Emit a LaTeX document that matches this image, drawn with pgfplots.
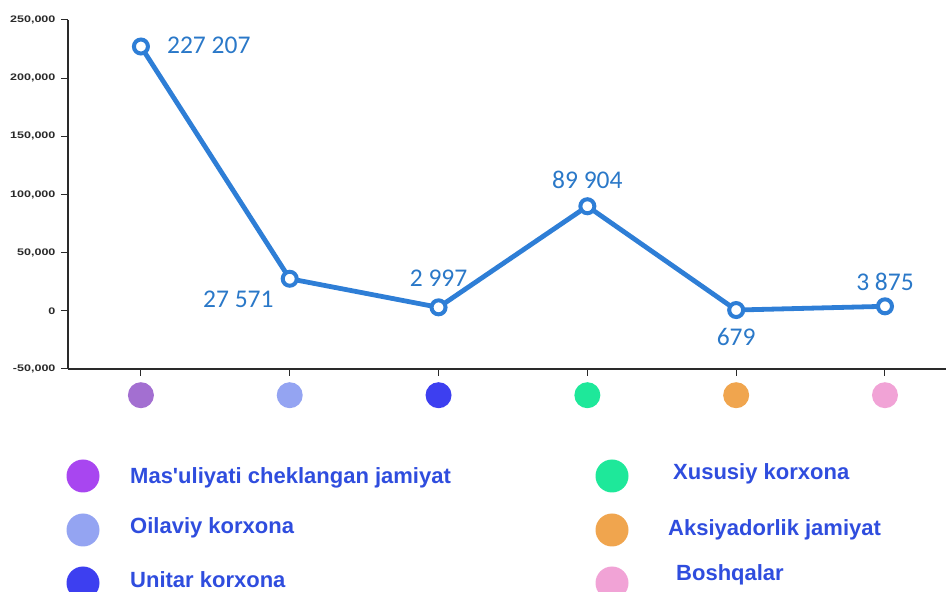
\documentclass[border=0pt]{standalone}
\usepackage{pgfplots}
\pgfplotsset{compat=1.18}
\usepackage{fontspec}
\setmainfont{Liberation Sans}
\newfontfamily\carlito{Carlito}
\definecolor{linec}{HTML}{2E7ED6}
\definecolor{labc}{HTML}{2A78C8}
\definecolor{legtxt}{HTML}{2F4DDE}
\definecolor{axisgray}{HTML}{2A2A2A}
\definecolor{tA}{HTML}{A36FD1}
\definecolor{tB}{HTML}{94A4F2}
\definecolor{tC}{HTML}{3D3FF0}
\definecolor{tD}{HTML}{1EE89A}
\definecolor{tE}{HTML}{F0A54E}
\definecolor{tF}{HTML}{F1A3D6}
\definecolor{lA}{HTML}{A846F0}
\newcommand{\dotx}[1]{\tikz\fill[#1] (0pt,0pt) circle (13pt);}
\pgfplotsset{vlab/.style n args={3}{draw=none, mark=none, point meta=explicit symbolic,
  nodes near coords={\pgfplotspointmeta},
  every node near coord/.append style={font=\carlito\fontsize{25.5}{28}\selectfont, text=labc, inner sep=0pt, anchor=#1, xshift=#2, yshift=#3}}}
\begin{document}
\begin{tikzpicture}
\useasboundingbox (0pt,0pt) rectangle (946pt,592pt);
\begin{axis}[
  at={(68pt,223pt)}, anchor=south west,
  scale only axis, width=878pt, height=349pt,
  xmin=-0.49, xmax=5.41, ymin=-50000, ymax=250000,
  axis x line*=bottom, axis y line*=left,
  axis line style={draw=axisgray, line width=1.4pt},
  tick style={draw=axisgray, line width=1pt},
  tick align=outside, major tick length=7pt,
  xtick={0,1,2,3,4,5},
  xticklabels={\dotx{tA},\dotx{tB},\dotx{tC},\dotx{tD},\dotx{tE},\dotx{tF}},
  xticklabel style={inner sep=0pt, yshift=-6pt},
  ytick={-50000,0,50000,100000,150000,200000,250000},
  yticklabels={{-50,000},{0},{50,000},{100,000},{150,000},{200,000},{250,000}},
  scaled y ticks=false,
  yticklabel style={font=\fontsize{9.5}{10}\selectfont\bfseries, text=axisgray, xscale=1.32, inner sep=1pt, xshift=-3pt},
  clip=false,
]
\addplot[linec, line width=4.8pt, mark=*, mark size=7pt,
  mark options={fill=white, draw=linec, line width=4pt}]
  coordinates {(0,227207) (1,27571) (2,2997) (3,89904) (4,679) (5,3875)};
\addplot[vlab={west}{26pt}{1pt}] coordinates {(0,227207) [227 207]};
\addplot[vlab={east}{-16pt}{-21pt}] coordinates {(1,27571) [27 571]};
\addplot[vlab={south}{0pt}{21pt}] coordinates {(2,2997) [2 997]};
\addplot[vlab={south}{0pt}{17pt}] coordinates {(3,89904) [89 904]};
\addplot[vlab={north}{0pt}{-18pt}] coordinates {(4,679) [679]};
\addplot[vlab={south}{0pt}{15pt}] coordinates {(5,3875) [3 875]};
\end{axis}
% legend
\fill[lA] (83pt,116pt) circle (16.5pt);
\fill[tB] (83pt,62pt) circle (16.5pt);
\fill[tC] (83pt,9pt) circle (16.5pt);
\fill[tD] (612pt,116pt) circle (16.5pt);
\fill[tE] (612pt,62pt) circle (16.5pt);
\fill[tF] (612pt,9pt) circle (16.5pt);
\begin{scope}[every node/.style={anchor=west, inner sep=0pt, text=legtxt, font=\fontsize{22}{24}\selectfont\bfseries}]
\node at (130pt,114pt) {Mas\textquotesingle uliyati cheklangan jamiyat};
\node at (130pt,64pt) {Oilaviy korxona};
\node at (130pt,12pt) {Unitar korxona};
\node at (673pt,118pt) {Xususiy korxona};
\node at (668pt,62pt) {Aksiyadorlik jamiyat};
\node at (676pt,17pt) {Boshqalar};
\end{scope}
\end{tikzpicture}
\end{document}
